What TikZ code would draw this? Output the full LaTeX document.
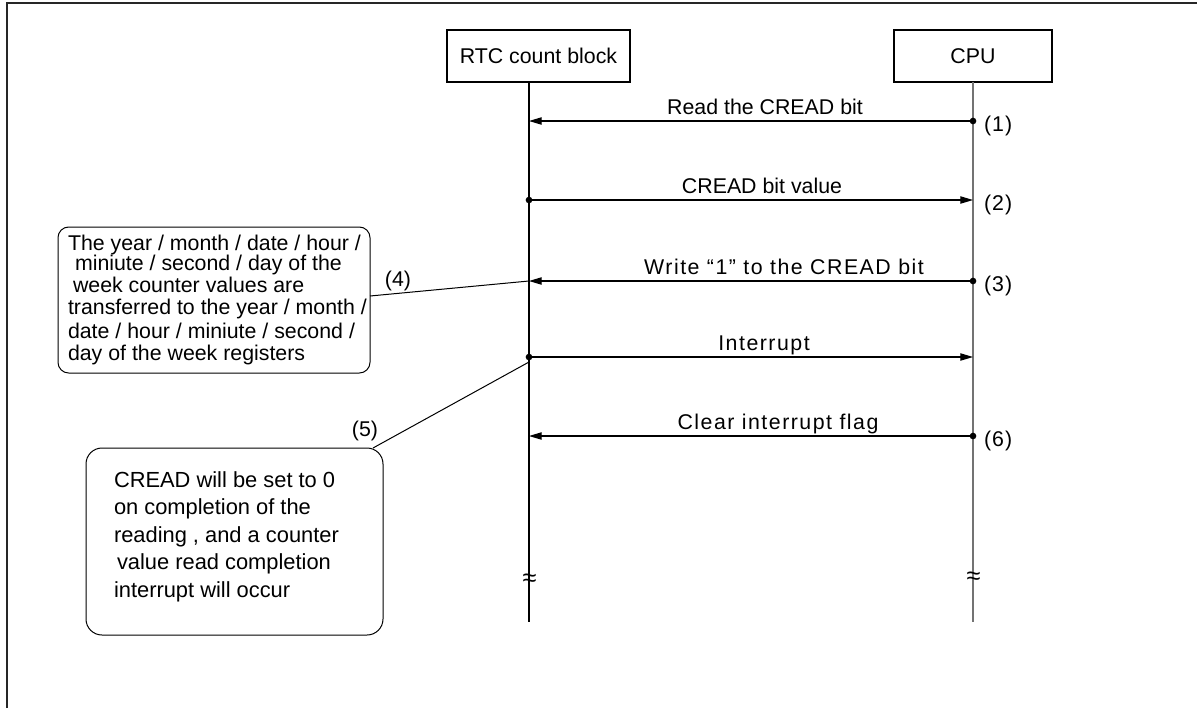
\documentclass[tikz,border=0pt]{standalone}
\usepackage{fontspec}
\setmainfont{Liberation Sans}
\usetikzlibrary{arrows.meta,calc}
\begin{document}
\begin{tikzpicture}[x=0.75pt,y=-0.75pt,
  every node/.style={font=\fontsize{16}{19}\selectfont, inner sep=0pt, outer sep=0pt},
  actor/.style={draw, line width=1.1pt, minimum height=39pt},
  life/.style={line width=0.8pt},
  msg/.style={line width=0.8pt, -{Triangle[length=9.5pt,width=5.5pt]}},
  spaced/.style={font=\fontsize{16}{19}\selectfont\addfontfeature{LetterSpace=7}},
  numlbl/.style={font=\fontsize{16}{19}\selectfont\addfontfeature{LetterSpace=5}},
  note/.style={draw, line width=0.75pt, rounded corners=8pt},
  notetext/.style={font=\fontsize{16.4}{19}\selectfont},
  dot/.style={fill=black},
  brk/.style={font=\fontsize{19}{19}\selectfont}]
\useasboundingbox (0,0) rectangle (1197,708);
% frame
\draw[line width=1pt, black!85] (7,708) -- (7,3) -- (1197,3);
% actors
\node[actor, minimum width=137.25pt] (rtc) at (538.5,56) {RTC count block};
\node[actor, minimum width=118.5pt] (cpu) at (973,56) {CPU};
\coordinate (rtcTop) at (529,82);
\coordinate (rtcBot) at (529,622);
\coordinate (cpuTop) at (973,82);
\coordinate (cpuBot) at (973,622);
\draw[life] (rtcTop) -- (rtcBot);
\draw[life, black!55] (cpuTop) -- (cpuBot);
\node[brk] (b1) at (529.5,580) {≈};
\node[brk] (b2) at (973.5,578) {≈};
% message points
\coordinate (r1) at (529,121); \coordinate (c1) at (973,121);
\coordinate (r2) at (529,200); \coordinate (c2) at (973,200);
\coordinate (r3) at (529,281); \coordinate (c3) at (973,281);
\coordinate (r4) at (529,357); \coordinate (c4) at (973,357);
\coordinate (r5) at (529,436); \coordinate (c5) at (973,436);
% messages
\draw[msg] (c1) -- (r1); \fill[dot] (c1) circle (2.5pt);
\draw[msg] (r2) -- (c2); \fill[dot] (r2) circle (2.5pt);
\draw[msg] (c3) -- (r3); \fill[dot] (c3) circle (2.5pt);
\draw[msg] (r4) -- (c4); \fill[dot] (r4) circle (2.5pt);
\draw[msg] (c5) -- (r5); \fill[dot] (c5) circle (2.5pt);
% message labels
\node[anchor=base] (l1) at (765,114) {Read the CREAD bit};
\node[anchor=base] (l2) at (762,193) {CREAD bit value};
\node[spaced, anchor=base] (l3) at (784,274) {Write “1” to the CREAD bit};
\node[spaced, anchor=base] (l4) at (764,350) {Interrupt};
\node[spaced, anchor=base] (l5) at (778,429) {Clear interrupt flag};
% numbers
\node[numlbl, anchor=base west] (n1) at (984,131) {(1)};
\node[numlbl, anchor=base west] (n2) at (984,210) {(2)};
\node[numlbl, anchor=base west] (n3) at (984,291) {(3)};
\node[numlbl, anchor=base west] (n6) at (984,446) {(6)};
% note 1
\node[note, minimum width=234pt, minimum height=109.5pt] (note1) at (214,300) {};
\node[anchor=base west] (t11) at (68,250) {The year / month / date / hour /};
\node[anchor=base west] (t12) at (75,270) {miniute / second / day of the};
\node[anchor=base west] (t13) at (73,292) {week counter values are};
\node[anchor=base west] (t14) at (68,314) {transferred to the year / month /};
\node[anchor=base west] (t15) at (68,338) {date / hour / miniute / second /};
\node[anchor=base west] (t16) at (68,360) {day of the week registers};
\draw[line width=0.75pt] ($(note1.east)+(0,-4)$) -- (r3);
\node (n4) at (398,281) {(4)};
% note 2
\node[note, rounded corners=12pt, minimum width=222.75pt, minimum height=140.25pt] (note2) at (234.5,541.5) {};
\node[notetext, anchor=base west] (t21) at (114,487) {CREAD will be set to 0};
\node[notetext, anchor=base west] (t22) at (114,514) {on completion of the};
\node[notetext, anchor=base west] (t23) at (114,542) {reading , and a counter};
\node[notetext, anchor=base west] (t24) at (117,569) {value read completion};
\node[notetext, anchor=base west] (t25) at (114,597) {interrupt will occur};
\draw[line width=0.75pt] ($(note2.north east)+(-10,0)$) -- ($(r4)+(0,5)$);
\node (n5) at (365,431) {(5)};
\end{tikzpicture}
\end{document}
